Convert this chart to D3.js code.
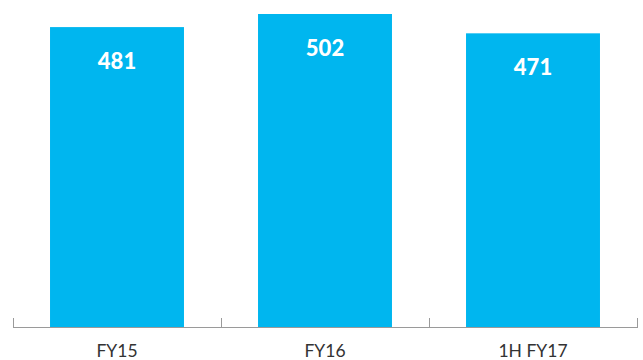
<!DOCTYPE html>
<html>
<head>
<meta charset="utf-8">
<script src="https://cdn.jsdelivr.net/npm/d3@7"></script>
<style>
  html, body { margin: 0; padding: 0; background: #fff; }
  svg { display: block; }
</style>
</head>
<body>
<svg id="chart" width="643" height="360"></svg>
<script>
// Periods and values
const categories = ["FY15", "FY16", "1H FY17"];
const values = [481, 502, 471];

const W = 643, H = 360;
const baseY = 327;
const svg = d3.select("#chart");

const x = d3.scaleBand()
  .domain(categories)
  .range([13, 637])
  .paddingInner(0.356)
  .paddingOuter(0.178)
  .align(0.5);

const y = d3.scaleLinear()
  .domain([0, 502])
  .range([baseY, 14]);

const barColor = "#00b6ef";
const fontFamily = "'Lato', 'Open Sans', 'Liberation Sans', sans-serif";

// Bars
svg.append("g").selectAll("rect")
  .data(categories)
  .join("rect")
  .attr("x", d => x(d))
  .attr("y", (d, i) => y(values[i]))
  .attr("width", x.bandwidth())
  .attr("height", (d, i) => baseY - y(values[i]))
  .attr("fill", barColor);

// Value labels inside bars
svg.append("g").selectAll("text")
  .data(categories)
  .join("text")
  .attr("x", d => x(d) + x.bandwidth() / 2)
  .attr("y", (d, i) => y(values[i]) + 42)
  .attr("text-anchor", "middle")
  .attr("fill", "#fff")
  .attr("font-family", fontFamily)
  .attr("font-weight", 900)
  .attr("font-size", 22)
  .text((d, i) => values[i]);

// Baseline with category separators
const axis = svg.append("g").attr("stroke", "#9a9a9a").attr("stroke-width", 1);
axis.append("line")
  .attr("x1", 13).attr("x2", 637)
  .attr("y1", baseY + 0.5).attr("y2", baseY + 0.5);
const bounds = [13].concat(categories.map(c => x(c) - x.step() * x.paddingInner() / 2 + x.step()));
bounds[bounds.length - 1] = 637;
axis.selectAll("line.tick")
  .data(bounds)
  .join("line")
  .attr("class", "tick")
  .attr("x1", d => Math.round(d) + 0.5).attr("x2", d => Math.round(d) + 0.5)
  .attr("y1", baseY - 9).attr("y2", baseY + 1);

// Category labels
svg.append("g").selectAll("text")
  .data(categories)
  .join("text")
  .attr("x", d => x(d) + x.bandwidth() / 2)
  .attr("y", 357)
  .attr("text-anchor", "middle")
  .attr("fill", "#333")
  .attr("font-family", fontFamily)
  .attr("font-size", 17.5)
  .text(d => d);
</script>
</body>
</html>
